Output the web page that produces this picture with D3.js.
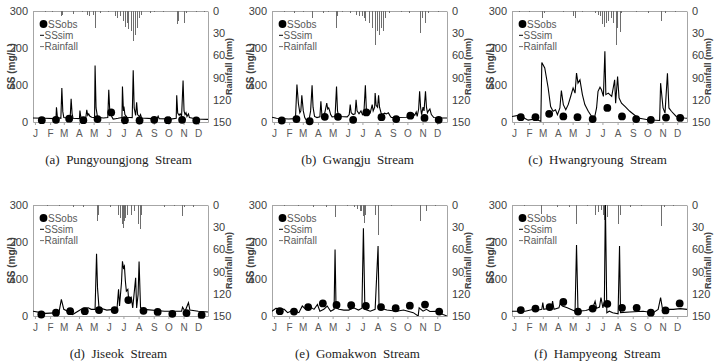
<!DOCTYPE html>
<html>
<head>
<meta charset="utf-8">
<script src="https://cdn.jsdelivr.net/npm/d3@7"></script>
<style>
body { margin: 0; background: #fff; }
svg { display: block; font-family: "Liberation Sans", Arial, sans-serif; }
</style>
</head>
<body>
<div id="chart"></div>
<script>
// month labels sit on the first day of each month (day of year)
var months = ['J', 'F', 'M', 'A', 'M', 'J', 'J', 'A', 'S', 'O', 'N', 'D'];
var monthStarts = [0, 31, 59, 90, 120, 151, 181, 212, 243, 273, 304, 334];
var ssTicks = [0, 100, 200, 300];
var rainTicks = [0, 30, 60, 90, 120, 150];
var legendLabels = ['SSobs', 'SSsim', 'Rainfall'];
var captions = [
  '(a)  Pungyoungjong  Stream',
  '(b)  Gwangju  Stream',
  '(c)  Hwangryoung  Stream',
  '(d)  Jiseok  Stream',
  '(e)  Gomakwon  Stream',
  '(f)  Hampyeong  Stream'
];

// [day of year, SS mg/L]
var simA = [[-4,11],[20,10],[40,9],[43,10],[44,40],[46,12],[53,10],[55,92],[57,28],[59,12],[72,10],[74,63],[76,22],[78,10],[91,9],[92,31],[94,12],[104,11],[106,33],[108,18],[110,22],[112,16],[116,13],[122,12],[123,153],[125,38],[128,13],[140,11],[149,12],[151,87],[153,30],[155,27],[157,15],[160,8],[165,9],[170,10],[178,12],[179,96],[181,30],[182,42],[184,20],[188,13],[199,12],[201,140],[203,38],[206,18],[208,53],[210,20],[214,14],[216,20],[218,11],[240,9],[250,10],[252,16],[254,9],[275,8],[276,12],[278,8],[289,10],[290,72],[292,24],[295,18],[297,22],[300,16],[303,112],[305,30],[307,20],[309,25],[311,15],[314,22],[316,12],[330,8],[354,7]];
var simB = [[-4,13],[5,10],[30,8],[44,9],[47,101],[50,50],[53,25],[55,30],[57,72],[60,30],[63,12],[66,5],[70,3],[72,8],[75,30],[78,99],[80,40],[83,15],[88,12],[94,14],[96,56],[98,20],[101,15],[104,25],[108,51],[110,35],[112,38],[114,30],[116,20],[119,14],[125,15],[128,96],[130,30],[132,18],[136,15],[150,14],[154,20],[156,47],[158,25],[162,20],[166,22],[168,60],[170,30],[174,22],[178,30],[181,20],[184,25],[187,99],[189,35],[191,28],[194,30],[197,25],[201,47],[203,30],[206,40],[207,78],[209,45],[212,40],[214,72],[216,40],[219,25],[222,20],[226,24],[230,22],[234,25],[237,18],[240,12],[250,12],[270,13],[280,14],[285,22],[288,18],[291,27],[293,15],[296,35],[298,83],[300,40],[302,20],[305,40],[307,30],[310,83],[312,40],[314,25],[316,30],[319,35],[322,20],[327,12],[340,11],[354,11]];
var simC = [[-4,15],[9,18],[19,12],[29,5],[43,8],[55,2],[57,161],[63,146],[70,92],[75,42],[80,29],[85,33],[89,20],[94,38],[97,85],[101,47],[106,33],[111,47],[116,69],[121,92],[125,78],[128,132],[131,105],[135,114],[140,74],[145,47],[152,29],[159,15],[164,6],[169,38],[172,83],[176,94],[179,87],[183,69],[186,191],[188,74],[193,78],[200,69],[206,114],[208,51],[212,123],[215,65],[220,51],[227,42],[237,29],[254,11],[274,6],[298,4],[300,105],[305,38],[309,24],[314,132],[317,38],[322,29],[332,15],[349,11],[354,10]];
var simD = [[-4,13],[22,7],[49,9],[54,45],[59,18],[67,13],[77,4],[88,13],[98,21],[109,22],[115,18],[123,18],[126,168],[128,76],[131,22],[147,16],[161,18],[168,22],[171,72],[173,27],[177,90],[179,148],[181,130],[183,135],[185,94],[187,67],[190,72],[192,40],[197,50],[200,22],[206,103],[208,22],[211,58],[213,147],[216,22],[223,18],[265,13],[300,13],[302,24],[307,13],[314,36],[317,16],[334,13],[354,11]];
var simE = [[-4,13],[4,21],[21,18],[28,9],[38,15],[51,9],[58,27],[65,18],[75,24],[82,18],[89,31],[94,13],[102,18],[109,27],[116,13],[123,18],[125,180],[127,22],[133,18],[143,16],[153,16],[163,22],[173,16],[180,21],[183,237],[186,18],[197,13],[207,18],[213,189],[215,22],[231,16],[251,13],[265,16],[285,9],[295,0],[297,22],[305,13],[312,18],[319,12],[332,13],[346,4],[354,0]];
var simF = [[-4,13],[23,13],[40,18],[44,24],[46,15],[57,18],[59,36],[61,18],[77,22],[79,40],[82,18],[92,22],[95,36],[99,27],[109,22],[116,18],[125,13],[128,192],[131,13],[147,15],[161,21],[166,40],[169,21],[175,24],[178,50],[182,22],[185,40],[187,310],[190,9],[195,13],[202,9],[213,6],[216,189],[218,9],[237,11],[264,13],[285,9],[295,18],[300,50],[304,18],[326,18],[340,20],[354,18]];

var obsA = [[14,5],[43,6],[70,9],[99,5],[128,8],[156,26],[184,5],[214,4],[244,6],[272,5],[301,6],[330,4]];
var obsB = [[16,4],[46,8],[73,2],[104,14],[131,14],[162,6],[189,26],[220,13],[250,8],[279,17],[308,11],[337,6]];
var obsC = [[14,13],[44,13],[72,22],[101,15],[130,13],[161,8],[191,38],[221,15],[250,8],[280,6],[311,12],[340,11]];
var obsD = [[13,4],[43,9],[72,13],[102,13],[131,16],[163,16],[191,43],[222,14],[251,11],[281,6],[310,8],[341,3]];
var obsE = [[12,13],[41,12],[70,24],[100,34],[128,30],[158,29],[188,27],[219,24],[249,21],[278,28],[309,31],[338,12]];
var obsF = [[14,16],[44,20],[73,24],[101,38],[131,12],[161,20],[191,33],[221,22],[251,22],[280,9],[310,15],[339,34]];

// [day of year, rainfall mm]
var rainA = [[20,2],[35,1],[53,7],[56,5],[78,4],[96,2],[106,5],[111,7],[119,5],[123,23],[133,3],[150,2],[164,7],[168,9],[174,7],[180,14],[184,21],[188,16],[191,24],[196,27],[201,41],[205,32],[208,23],[213,9],[217,5],[235,3],[244,2],[262,2],[290,18],[293,14],[304,16],[310,3],[330,2],[345,1]];
var rainB = [[20,2],[40,3],[60,2],[78,9],[100,3],[110,2],[126,23],[129,7],[140,2],[156,3],[167,5],[173,7],[180,7],[184,9],[187,14],[194,16],[201,23],[206,46],[210,27],[214,32],[218,23],[223,27],[228,9],[235,3],[260,2],[276,3],[298,30],[303,9],[310,16],[315,3],[335,2]];
var rainC = [[10,1],[30,2],[57,10],[62,3],[100,2],[121,7],[125,10],[140,2],[166,3],[172,5],[176,7],[181,18],[184,21],[188,16],[193,14],[198,10],[203,16],[209,46],[211,23],[217,28],[220,3],[250,2],[275,3],[300,14],[309,3],[330,2]];
var rainD = [[25,2],[50,1],[77,3],[98,3],[126,22],[128,13],[154,3],[169,13],[173,17],[178,26],[180,31],[183,22],[185,17],[189,13],[196,13],[202,8],[211,26],[214,33],[216,13],[265,3],[285,2],[300,15],[305,3],[324,3]];
var rainE = [[20,1],[50,2],[79,3],[106,3],[125,16],[150,2],[163,3],[170,6],[175,8],[179,8],[182,15],[184,24],[187,13],[207,13],[213,40],[240,2],[299,22],[311,8],[330,2]];
var rainF = [[20,2],[56,12],[88,3],[113,3],[126,26],[150,2],[166,14],[171,10],[178,7],[183,14],[185,20],[187,30],[190,16],[213,26],[216,14],[237,3],[260,2],[301,28],[306,3],[325,2]];

var sims = [simA, simB, simC, simD, simE, simF];
var obss = [obsA, obsB, obsC, obsD, obsE, obsF];
var rains = [rainA, rainB, rainC, rainD, rainE, rainF];

var W = 716, H = 363, pw = 175, ph = 111;
var lefts = [33, 272, 512], tops = [11, 205];
var axis_color = '#a6a6a6',
  label_color = '#404040',
  legend_color = '#595959',
  rain_color = '#6e6e6e';

var svg = d3.select('#chart').append('svg')
  .attr('width', W)
  .attr('height', H);

function styleAxis(sel) {
  sel.select('.domain').attr('stroke', axis_color);
  sel.selectAll('.tick line').attr('stroke', axis_color);
  sel.selectAll('.tick text').attr('fill', label_color).style('font-size', '11px');
}

sims.forEach(function(sim, i) {
  var x0 = lefts[i % 3], y0 = tops[Math.floor(i / 3)];
  var x = d3.scaleLinear().domain([-4, 354]).range([0, pw]);
  var y = d3.scaleLinear().domain([0, 300]).range([ph, 0]);
  var yr = d3.scaleLinear().domain([0, 150]).range([0, ph]);

  var g = svg.append('g').attr('transform', 'translate(' + x0 + ',' + y0 + ')');

  g.append('clipPath').attr('id', 'clip' + i)
    .append('rect').attr('width', pw).attr('height', ph);

  // axes
  g.append('g').call(d3.axisLeft(y).tickValues(ssTicks).tickSize(0).tickPadding(5)).call(styleAxis);
  g.append('g').attr('transform', 'translate(' + pw + ',0)')
    .call(d3.axisRight(yr).tickValues(rainTicks).tickSize(0).tickPadding(5)).call(styleAxis);
  var xa = g.append('g').attr('transform', 'translate(0,' + ph + ')')
    .call(d3.axisBottom(x).tickValues(monthStarts).tickFormat(function(d, k) { return months[k]; })
      .tickSizeInner(3).tickSizeOuter(0).tickPadding(5))
    .call(styleAxis);
  xa.selectAll('.tick text').attr('fill', legend_color).style('font-size', '10px');
  g.append('line').attr('x1', 0).attr('x2', pw).attr('y1', 0.5).attr('y2', 0.5).attr('stroke', axis_color);

  // rainfall bars hang from the top
  g.append('g').attr('shape-rendering', 'crispEdges')
    .selectAll('line').data(rains[i]).join('line')
    .attr('x1', function(d) { return Math.round(x(d[0])) + 0.5; })
    .attr('x2', function(d) { return Math.round(x(d[0])) + 0.5; })
    .attr('y1', 0)
    .attr('y2', function(d) { return yr(d[1]); })
    .attr('stroke', rain_color)
    .attr('stroke-width', 1);

  g.append('path').datum(sim)
    .attr('clip-path', 'url(#clip' + i + ')')
    .attr('d', d3.line().x(function(d) { return x(d[0]); }).y(function(d) { return y(d[1]); }))
    .attr('fill', 'none')
    .attr('stroke', '#000')
    .attr('stroke-width', 1.1);

  g.append('g').selectAll('circle').data(obss[i]).join('circle')
    .attr('cx', function(d) { return x(d[0]); })
    .attr('cy', function(d) { return y(d[1]); })
    .attr('r', 3.9)
    .attr('fill', '#000');

  // axis titles
  g.append('text')
    .attr('transform', 'translate(-22,' + (ph / 2) + ') rotate(-90)')
    .attr('text-anchor', 'middle')
    .attr('dy', '0.35em')
    .attr('fill', label_color)
    .style('font-weight', 'bold')
    .style('font-size', '10px')
    .text('SS (mg/L)');
  g.append('text')
    .attr('transform', 'translate(' + (pw + 21) + ',' + (ph / 2) + ') rotate(-90)')
    .attr('text-anchor', 'middle')
    .attr('dy', '0.35em')
    .attr('fill', label_color)
    .style('font-weight', 'bold')
    .style('font-size', '9px')
    .text('Rainfall (mm)');

  // legend
  var lg = g.append('g').attr('transform', 'translate(7,13)');
  lg.append('circle').attr('cx', 3.5).attr('cy', 0).attr('r', 3.9).attr('fill', '#000');
  lg.append('line').attr('x1', 0).attr('x2', 4).attr('y1', 11.3).attr('y2', 11.3).attr('stroke', '#000');
  lg.append('line').attr('x1', 0).attr('x2', 4).attr('y1', 22.6).attr('y2', 22.6).attr('stroke', rain_color);
  lg.selectAll('text').data(legendLabels).join('text')
    .attr('x', function(d, k) { return k == 0 ? 8 : 4.5; })
    .attr('y', function(d, k) { return k * 11.3; })
    .attr('dy', '0.35em')
    .attr('fill', legend_color)
    .style('font-size', '10px')
    .text(function(d) { return d; });

  // caption
  svg.append('text')
    .attr('x', x0 + pw / 2 - 2)
    .attr('y', y0 + ph + 42)
    .attr('text-anchor', 'middle')
    .attr('fill', '#222')
    .style('font-family', '"Liberation Serif", "Times New Roman", serif')
    .style('font-size', '13px')
    .style('white-space', 'pre')
    .text(captions[i]);
});
</script>
</body>
</html>
